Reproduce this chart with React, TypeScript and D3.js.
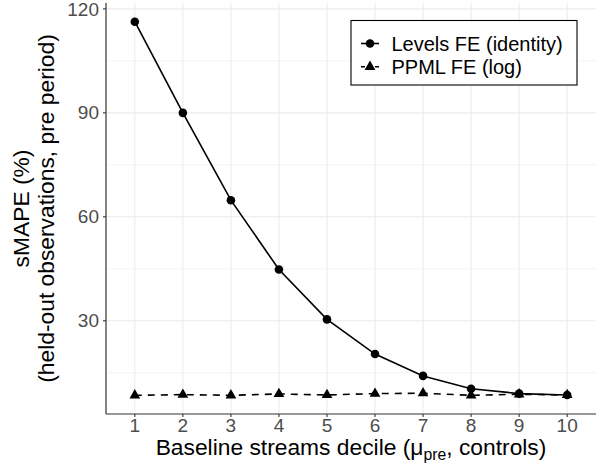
import React from "react";
import * as d3 from "d3";

const deciles = [1, 2, 3, 4, 5, 6, 7, 8, 9, 10];
const levelsFE = [116.3, 90, 64.8, 44.8, 30.4, 20.4, 14.1, 10.4, 9.0, 8.6];
const ppmlFE = [8.5, 8.7, 8.5, 8.9, 8.6, 9.0, 9.1, 8.5, 8.8, 8.6];
const yTicks = [30, 60, 90, 120];
const yMinor = [15, 45, 75, 105];
const seriesNames = ["Levels FE (identity)", "PPML FE (log)"];

const W = 602, H = 470;
const FONT = "'Liberation Sans', Arial, sans-serif";

export default function App() {
  const left = 106, right = 596, top = 3, bottom = 414;
  const x = d3.scaleLinear().domain([0.4, 10.6]).range([left, right]);
  const all = [...levelsFE, ...ppmlFE];
  const mn = d3.min(all)!, mx = d3.max(all)!;
  const pad = (mx - mn) * 0.05;
  const y = d3.scaleLinear().domain([mn - pad, mx + pad]).range([bottom, top]);
  const line = d3.line<number>().x((_, i) => x(deciles[i])).y((d) => y(d));
  const tri = d3.symbol().type(d3.symbolTriangle).size(50)();
  const grid = "#EBEBEB";
  const axisCol = "#333333";
  const tickCol = "#4D4D4D";

  return (
    <svg width={W} height={H} style={{ position: "absolute", left: 0, top: 0, background: "#fff" }} fontFamily={FONT}>
      <rect x={0} y={0} width={W} height={H} fill="#fff" />
      {yMinor.map((t) => (
        <line key={"m" + t} x1={left} x2={right} y1={y(t)} y2={y(t)} stroke={grid} strokeWidth={0.6} />
      ))}
      {yTicks.map((t) => (
        <line key={"g" + t} x1={left} x2={right} y1={y(t)} y2={y(t)} stroke={grid} strokeWidth={1.1} />
      ))}
      {deciles.map((d) => (
        <line key={"v" + d} x1={x(d)} x2={x(d)} y1={top} y2={bottom} stroke={grid} strokeWidth={1.1} />
      ))}
      <line x1={left} x2={left} y1={top} y2={bottom} stroke={axisCol} strokeWidth={1.2} />
      <line x1={left} x2={right} y1={bottom} y2={bottom} stroke={axisCol} strokeWidth={1.2} />
      {yTicks.map((t) => (
        <g key={"yt" + t}>
          <line x1={left - 3} x2={left} y1={y(t)} y2={y(t)} stroke={axisCol} strokeWidth={1.1} />
          <text x={left - 7} y={y(t)} dy="0.35em" textAnchor="end" fontSize={19} fill={tickCol}>
            {t}
          </text>
        </g>
      ))}
      {deciles.map((d) => (
        <g key={"xt" + d}>
          <line x1={x(d)} x2={x(d)} y1={bottom} y2={bottom + 3} stroke={axisCol} strokeWidth={1.1} />
          <text x={x(d)} y={432} textAnchor="middle" fontSize={19} fill={tickCol}>
            {d}
          </text>
        </g>
      ))}
      <text x={(left + right) / 2} y={455} textAnchor="middle" fontSize={22.8} fill="#000">
        Baseline streams decile (μ
        <tspan fontSize={15.8} dy={5}>pre</tspan>
        <tspan dy={-5}>, controls)</tspan>
      </text>
      <g transform={`translate(0, ${(top + bottom) / 2}) rotate(-90)`}>
        <text x={0} y={29} textAnchor="middle" fontSize={22.8} fill="#000">sMAPE (%)</text>
        <text x={0} y={54} textAnchor="middle" fontSize={22.8} fill="#000">(held-out observations, pre period)</text>
      </g>
      <path d={line(levelsFE)!} fill="none" stroke="#000" strokeWidth={1.6} />
      <path d={line(ppmlFE)!} fill="none" stroke="#000" strokeWidth={1.6} strokeDasharray="7,6" />
      {levelsFE.map((v, i) => (
        <circle key={"c" + i} cx={x(deciles[i])} cy={y(v)} r={4.3} fill="#000" />
      ))}
      {ppmlFE.map((v, i) => (
        <path key={"t" + i} d={tri!} transform={`translate(${x(deciles[i])},${y(v)})`} fill="#000" />
      ))}
      <rect x={351} y={20.5} width={226} height={64.5} fill="#fff" stroke="#000" strokeWidth={1.1} />
      {seriesNames.map((n, i) => {
        const cy = 43.5 + i * 23.3;
        return (
          <g key={n}>
            <line x1={361} x2={379} y1={cy} y2={cy} stroke="#000" strokeWidth={1.6} strokeDasharray={i === 1 ? "4,3" : undefined} />
            {i === 0 ? (
              <circle cx={370} cy={cy} r={4.3} fill="#000" />
            ) : (
              <path d={tri!} transform={`translate(370,${cy})`} fill="#000" />
            )}
            <text x={391.5} y={cy} dy="0.35em" fontSize={20} fill="#000">
              {n}
            </text>
          </g>
        );
      })}
    </svg>
  );
}
